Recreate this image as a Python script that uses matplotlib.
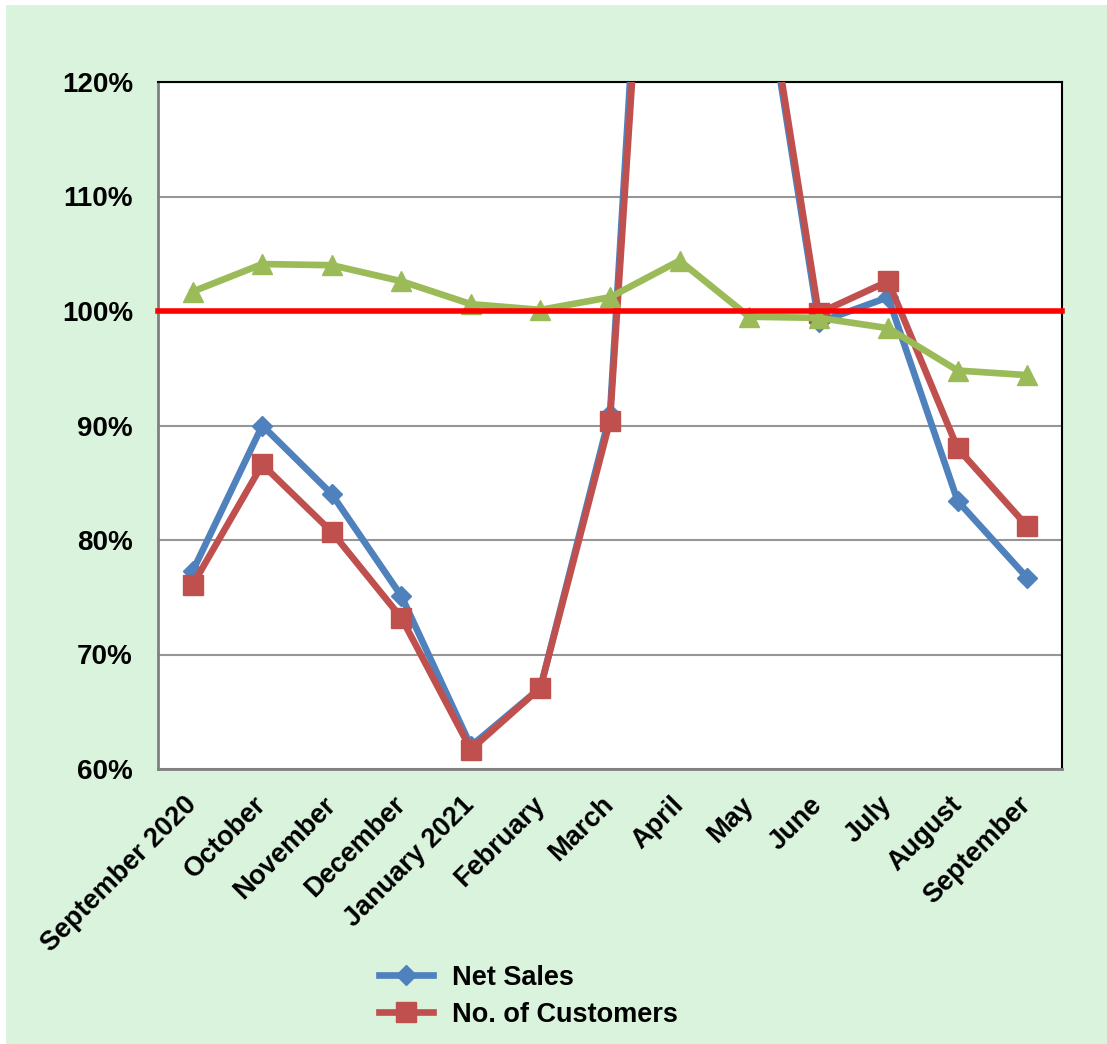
import matplotlib
matplotlib.use('Agg')
import matplotlib.pyplot as plt
from matplotlib.patches import Rectangle
from matplotlib.lines import Line2D

## Data (% of same month a year earlier)
months = ['September 2020', 'October', 'November', 'December', 'January 2021',
          'February', 'March', 'April', 'May', 'June', 'July', 'August', 'September']
net_sales = [77.3, 90.0, 84.0, 75.1, 62.0, 67.1, 91.0, 192.0, 137.5, 99.0, 101.2, 83.4, 76.7]
customers = [76.1, 86.6, 80.7, 73.2, 61.7, 67.1, 90.4, 184.0, 138.2, 99.8, 102.6, 88.0, 81.2]
sales_per_customer = [101.7, 104.1, 104.0, 102.6, 100.6, 100.1, 101.2, 104.4, 99.5, 99.4, 98.5, 94.8, 94.4]
yticks = [60, 70, 80, 90, 100, 110, 120]

BLUE = '#4F81BD'
RED = '#C0504D'
GREEN = '#9BBB59'
BG = '#D9F3DD'

plt.rcParams['font.family'] = ['Liberation Sans', 'DejaVu Sans']
plt.rcParams['font.weight'] = 'bold'

fig = plt.figure(figsize=(11.07, 10.44), dpi=100, facecolor='white')
## light green chart area
fig.patches.append(Rectangle((6 / 1107, 0), 1, 1 - 5 / 1044, transform=fig.transFigure,
                             facecolor=BG, edgecolor='none', zorder=-10))

ax = fig.add_axes([158 / 1107, 1 - 769 / 1044, (1062 - 158) / 1107, (769 - 82) / 1044])
ax.set_facecolor('white')

x = list(range(len(months)))
ax.plot(x, net_sales, color=BLUE, lw=4.8, marker='D', ms=10, zorder=3)
ax.plot(x, customers, color=RED, lw=4.8, marker='s', ms=14, zorder=4)
ax.plot(x, sales_per_customer, color=GREEN, lw=4.8, marker='^', ms=14, zorder=5)
ax.axhline(100, color='#FF0000', lw=4, zorder=6, clip_on=False)

ax.set_xlim(-0.5, len(months) - 0.5)
ax.set_ylim(60, 120)
ax.set_yticks(yticks)
ax.set_yticklabels(['%d%%' % v for v in yticks])
ax.yaxis.grid(True, color='#969696', lw=1.5)
ax.set_axisbelow(True)

ax.set_xticks(x)
ax.set_xticklabels(months, rotation=45, ha='right', va='center', rotation_mode='anchor')
ax.tick_params(axis='x', length=0, pad=23, labelsize=19.5)
ax.tick_params(axis='y', length=0, pad=18, labelsize=20)

for s in ['top', 'right']:
    ax.spines[s].set_color('black')
    ax.spines[s].set_linewidth(1.5)
for s in ['left', 'bottom']:
    ax.spines[s].set_color('#808080')
    ax.spines[s].set_linewidth(2)

## legend shows only the two main series
handles = [Line2D([], [], color=BLUE, lw=4.8, marker='D', ms=10),
           Line2D([], [], color=RED, lw=4.8, marker='s', ms=14)]
fig.legend(handles, ['Net Sales', 'No. of Customers'], loc='upper left',
           bbox_to_anchor=(365 / 1107, 1 - 951 / 1044), frameon=False,
           fontsize=19.5, handlelength=2.0, handletextpad=0.7, labelspacing=0.42,
           borderpad=0)

plt.savefig('out.png', dpi=100, facecolor=fig.get_facecolor())
